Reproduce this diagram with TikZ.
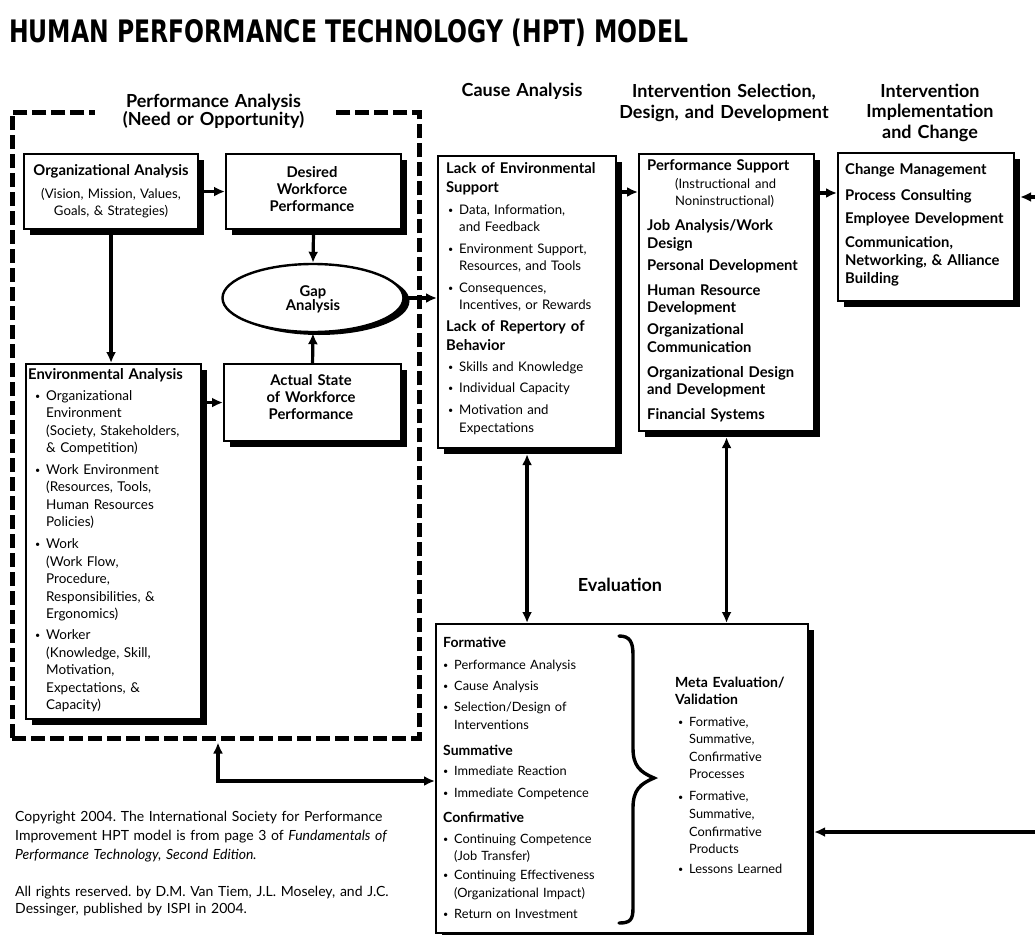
\documentclass[tikz,border=0pt]{standalone}
\usepackage{fontspec}
\setmainfont{Lato}
\newfontfamily\titlefont{DejaVu Sans}
\usepackage{graphicx}
\usetikzlibrary{shapes.geometric,shadows,arrows.meta}
\frenchspacing
\newcommand\fB[2]{\fontsize{#1}{#2}\selectfont\bfseries}
\newcommand\fR[2]{\fontsize{#1}{#2}\selectfont\mdseries}
\newcommand\bul{\makebox[11pt][l]{\raisebox{0.8pt}{\fontsize{9}{9}\selectfont\textbullet}}}
\newcommand\ind{\hspace*{11pt}}
\begin{document}
\begin{tikzpicture}[x=1pt,y=-1pt,
  box/.style={draw, line width=2.1pt, fill=white, rectangle, inner sep=0pt, anchor=north west,
     drop shadow={shadow xshift=5.5pt, shadow yshift=-5.5pt, fill=black, opacity=1}},
  tip/.tip={Latex[length=11pt,width=10pt]},
  arr/.style={line width=3.2pt, -tip},
  arr2/.style={line width=3.2pt, tip-tip},
  txt/.style={anchor=base west, inner sep=0pt, align=left, text width=200pt},
  ctxt/.style={anchor=base, inner sep=0pt, align=center, text width=240pt},
  sect/.style={ctxt, font={\fB{18}{21}}},
]
\useasboundingbox (0,0) rectangle (1035,934);
\clip (0,0) rectangle (1035,934);
\fill[white] (0,0) rectangle (1035,934);

% title
\node[anchor=base west, inner sep=0pt] (title) at (9,43)
  {\resizebox{679pt}{23.5pt}{\titlefont\bfseries HUMAN PERFORMANCE TECHNOLOGY (HPT) MODEL}};

% performance analysis frame
\node[draw, line width=4.5pt, dash pattern=on 14pt off 5pt, anchor=north west,
      minimum width=407pt, minimum height=626pt, inner sep=0pt] (pa) at (10,110) {};
\node[ctxt, font={\fB{18}{16}}, fill=white, text width=237pt] (hpa) at (213.5,107.5)
  {Performance Analysis\\(Need or Opportunity)};

% section headings
\node[sect] (hca) at (522,96) {Cause Analysis};
\node[sect] (his) at (724,97) {Intervention Selection,\\Design, and Development};
\node[sect, font={\fB{18}{20.5}}] (hii) at (930,97) {Intervention\\Implementation\\and Change};
\node[sect] (hev) at (620,591) {Evaluation};

% boxes
\node[box, minimum width=174pt, minimum height=75pt] (org) at (23,153) {};
\node[box, minimum width=175pt, minimum height=75pt] (des) at (225,153) {};
\node[draw, ellipse, line width=2.4pt, fill=white, inner sep=0pt, minimum width=181pt,
      minimum height=68pt, drop shadow={shadow xshift=6pt, shadow yshift=-3pt, fill=black, opacity=1}]
      (gap) at (313,298) {};
\node[box, minimum width=177pt, minimum height=77pt] (act) at (223,363) {};
\node[box, minimum width=175pt, minimum height=355pt] (env) at (25,363) {};
\node[box, minimum width=178pt, minimum height=292pt] (cause) at (437,155) {};
\node[box, minimum width=175pt, minimum height=277pt] (interv) at (638,153) {};
\node[box, minimum width=176pt, minimum height=148pt] (impl) at (837,152) {};
\node[box, minimum width=372pt, minimum height=309pt] (eval) at (435,623) {};

% box texts
\node[ctxt, text width=172pt, font={\fR{13.2}{17}}] (torg) at (111,175)
  {{\fB{14.8}{17}Organizational Analysis}\\[6pt](Vision, Mission, Values,\\Goals, \& Strategies)};
\node[ctxt, text width=172pt, font={\fB{14.8}{17}}] (tdes) at (312,177.5) {Desired\\Workforce\\Performance};
\node[ctxt, text width=172pt, font={\fB{14.8}{17}}] (tact) at (311,385.5) {Actual State\\of Workforce\\Performance};
\node[ctxt, text width=172pt, font={\fB{14.8}{14}}] (tgap) at (313,296.5) {Gap\\Analysis};

\node[txt, font={\fB{14.8}{17.5}}] (tenv1) at (28,379.5) {Environmental Analysis};
\node[txt, font={\fR{13.5}{17.5}}] (tenv2) at (35,400) {\bul Organizational\\ \ind Environment\\ \ind (Society, Stakeholders,\\ \ind \& Competition)\\[4pt]
  \bul Work Environment\\ \ind (Resources, Tools,\\ \ind Human Resources\\ \ind Policies)\\[4.5pt]
  \bul Work\\ \ind (Work Flow,\\ \ind Procedure,\\ \ind Responsibilities, \&\\ \ind Ergonomics)\\[3.5pt]
  \bul Worker\\ \ind (Knowledge, Skill,\\ \ind Motivation,\\ \ind Expectations, \&\\ \ind Capacity)};

\node[txt, font={\fB{14.8}{19}}] (tc1) at (446,173.5) {Lack of Environmental\\Support};
\node[txt, font={\fR{13.2}{17}}] (tc2) at (448,214) {\bul Data, Information,\\ \ind and Feedback\\[5pt]
  \bul Environment Support,\\ \ind Resources, and Tools\\[5pt] \bul Consequences,\\ \ind Incentives, or Rewards};
\node[txt, font={\fB{14.8}{18.5}}] (tc3) at (446,331.5) {Lack of Repertory of\\Behavior};
\node[txt, font={\fR{13.2}{18}}] (tc4) at (448,371.5) {\bul Skills and Knowledge\\[3pt] \bul Individual Capacity\\[4pt]
  \bul Motivation and\\ \ind Expectations};

\node[txt, font={\fB{14.8}{17.5}}] (tint) at (647,170.5) {Performance Support\\
  {\fR{13}{17.5}\hspace*{28pt}(Instructional and}\\ {\fR{13}{17.5}\hspace*{28pt}Noninstructional)}\\[7.5pt]
  Job Analysis/Work\\ Design\\[4.5pt] Personal Development\\[7.5pt] Human Resource\\ Development\\[4.5pt]
  Organizational\\ Communication\\[7.5pt] Organizational Design\\ and Development\\[7.5pt] Financial Systems};

\node[txt, font={\fB{14.8}{18}}] (timp) at (845,174.5) {Change Management\\[8pt] Process Consulting\\[5pt]
  Employee Development\\[6pt] Communication,\\ Networking, \& Alliance\\ Building};

\node[txt, font={\fR{12.8}{17.5}}] (tev) at (443,647.5) {{\fB{14}{17.5}Formative}\\[4.5pt]
  \bul Performance Analysis\\[3.5pt] \bul Cause Analysis\\[3.5pt] \bul Selection/Design of\\ \ind Interventions\\[8.5pt]
  {\fB{14}{17.5}Summative}\\[2.5pt] \bul Immediate Reaction\\[4.5pt] \bul Immediate Competence\\[7.5pt]
  {\fB{14}{17.5}Confirmative}\\[3.5pt] \bul Continuing Competence\\ \ind (Job Transfer)\\[1.5pt]
  \bul Continuing Effectiveness\\ \ind (Organizational Impact)\\[3.5pt] \bul Return on Investment};

\node[txt, font={\fB{14}{17}}] (tmeta1) at (675,687.5) {Meta Evaluation/\\Validation};
\node[txt, font={\fR{12.8}{17.6}}] (tmeta2) at (678,726) {\bul Formative,\\ \ind Summative,\\ \ind Confirmative\\ \ind Processes\\[4.4pt]
  \bul Formative,\\ \ind Summative,\\ \ind Confirmative\\ \ind Products\\[2.5pt] \bul Lessons Learned};

% brace
\draw[line width=3.4pt, line cap=round] (619,636) .. controls (630,636) and (633,642) .. (633,655) -- (633,748)
  .. controls (633,766) and (640,772) .. (654,778) .. controls (640,784) and (633,790) .. (633,808)
  -- (633,908) .. controls (633,920) and (630,923) .. (619,923);

% copyright
\node[txt, text width=420pt, font={\fR{14}{19}}] (copy1) at (15,821.5) {Copyright 2004. The International Society for Performance\\
  Improvement HPT model is from page 3 of \textit{Fundamentals of}\\ \textit{Performance Technology, Second Edition.}};
\node[txt, text width=420pt, font={\fR{14}{17}}] (copy2) at (15,896) {All rights reserved. by D.M. Van Tiem, J.L. Moseley, and J.C.\\
  Dessinger, published by ISPI in 2004.};

% connectors
\draw[arr] (org.east) -- (des.west);
\draw[arr] (org.south) -- (org.south |- env.north);
\draw[arr] (des.south) -- (gap.north);
\draw[arr] (act.north) -- (gap.south);
\draw[arr] (env.east |- act.west) -- (act.west);
\draw[arr] (gap.east) -- (gap.east -| cause.west);
\coordinate (c1) at ([yshift=-37pt]cause.north east);
\draw[arr] (c1) -- (c1 -| interv.west);
\coordinate (c2) at ([yshift=-40pt]interv.north east);
\draw[arr] (c2) -- (c2 -| impl.west);
\coordinate (rt1) at (1035,197);
\coordinate (ie) at ([xshift=5pt]impl.east);
\draw[arr] (rt1) -- (rt1 -| ie);
\draw[arr2] ([yshift=-5pt]cause.south) -- (cause.south |- eval.north);
\draw[arr2] ([yshift=-5pt]interv.south) -- (interv.south |- eval.north);
\coordinate (e1) at (218,781);
\coordinate (pab) at ([yshift=-2pt]pa.south);
\draw[arr2] (eval.west |- e1) -- (e1) -- (e1 |- pab);
\coordinate (rt2) at (1035,832);
\coordinate (ee) at ([xshift=5pt]eval.east);
\draw[arr] (rt2) -- (rt2 -| ee);
\end{tikzpicture}
\end{document}
